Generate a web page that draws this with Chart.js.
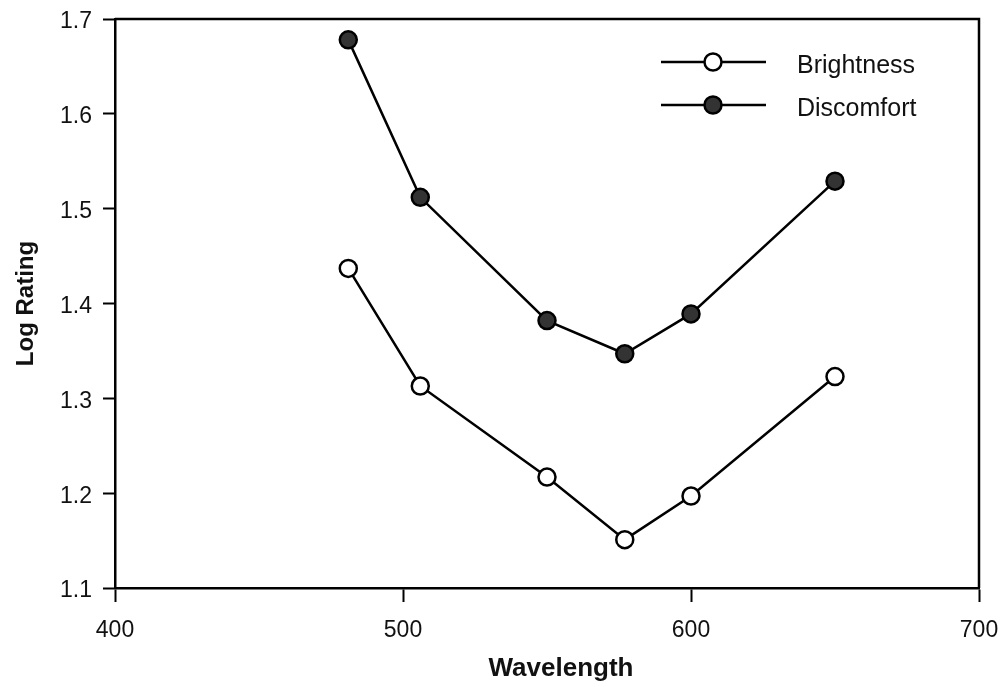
<!DOCTYPE html>
<html>
<head>
<meta charset="utf-8">
<script src="https://cdn.jsdelivr.net/npm/chart.js@4"></script>
<style>
  html, body { margin: 0; padding: 0; background: #fff; }
  #wrap { width: 1001px; height: 687px; }
</style>
</head>
<body>
<div id="wrap"><canvas id="chart" width="1001" height="687"></canvas></div>
<script>
const wavelengths = [481, 506, 550, 577, 600, 650];
const brightness = [1.437, 1.313, 1.217, 1.151, 1.197, 1.323];
const discomfort = [1.678, 1.512, 1.382, 1.347, 1.389, 1.529];
const xTicks = [400, 500, 600, 700];
const yTicks = [1.1, 1.2, 1.3, 1.4, 1.5, 1.6, 1.7];

const font = '"Liberation Sans", Arial, Helvetica, sans-serif';

// box round the plot area, the x title (sits a bit right of centre) and the legend
const frame = {
    id: 'frame',
    afterDraw(chart) {
        const ctx = chart.ctx;
        const a = chart.chartArea;
        ctx.save();
        ctx.strokeStyle = '#000';
        ctx.lineWidth = 2.5;
        ctx.beginPath();
        ctx.moveTo(a.left, a.top);
        ctx.lineTo(a.right, a.top);
        ctx.lineTo(a.right, a.bottom);
        ctx.stroke();

        ctx.fillStyle = '#111';
        ctx.font = 'bold 26px ' + font;
        ctx.textAlign = 'center';
        ctx.textBaseline = 'middle';
        ctx.fillText('Wavelength', 561, 669);

        const rows = [
            { label: 'Brightness', fill: '#fff', y: 62 },
            { label: 'Discomfort', fill: '#333', y: 105 }
        ];
        rows.forEach(r => {
            ctx.lineWidth = 2.5;
            ctx.beginPath();
            ctx.moveTo(661, r.y);
            ctx.lineTo(766, r.y);
            ctx.stroke();
            ctx.beginPath();
            ctx.arc(713, r.y, 8.5, 0, Math.PI * 2);
            ctx.fillStyle = r.fill;
            ctx.fill();
            ctx.stroke();
            ctx.fillStyle = '#111';
            ctx.font = '25px ' + font;
            ctx.textBaseline = 'middle';
            ctx.textAlign = 'left';
            ctx.fillText(r.label, 797, r.y + 4);
        });
        ctx.restore();
    }
};

new Chart(document.getElementById('chart'), {
    type: 'line',
    data: {
        datasets: [
            {
                label: 'Brightness',
                data: wavelengths.map((w, i) => ({ x: w, y: brightness[i] })),
                borderColor: '#000',
                borderWidth: 2.5,
                pointRadius: 8.5,
                pointBorderWidth: 2.5,
                pointBackgroundColor: '#fff',
                pointBorderColor: '#000',
                tension: 0
            },
            {
                label: 'Discomfort',
                data: wavelengths.map((w, i) => ({ x: w, y: discomfort[i] })),
                borderColor: '#000',
                borderWidth: 2.5,
                pointRadius: 8.5,
                pointBorderWidth: 2.5,
                pointBackgroundColor: '#333',
                pointBorderColor: '#000',
                tension: 0
            }
        ]
    },
    options: {
        responsive: false,
        animation: false,
        layout: { padding: { top: 19, right: 22, left: 0, bottom: 0 } },
        plugins: {
            legend: { display: false },
            tooltip: { enabled: false }
        },
        scales: {
            x: {
                type: 'linear',
                min: 400,
                max: 700,
                afterBuildTicks: s => { s.ticks = xTicks.map(v => ({ value: v })); },
                afterFit: s => { s.height = 99; s.paddingLeft = 0; s.paddingRight = 0; },
                grid: { drawOnChartArea: false, tickLength: 14, tickWidth: 2, color: '#000' },
                border: { color: '#000', width: 2.5 },
                ticks: { color: '#111', font: { family: font, size: 23 }, padding: 15 }
            },
            y: {
                min: 1.1,
                max: 1.7,
                afterBuildTicks: s => { s.ticks = yTicks.map(v => ({ value: v })); },
                afterFit: s => { s.width = 115; s.paddingTop = 0; s.paddingBottom = 0; },
                grid: { drawOnChartArea: false, tickLength: 12, tickWidth: 2, color: '#000' },
                border: { color: '#000', width: 2.5 },
                ticks: {
                    color: '#111',
                    font: { family: font, size: 23 },
                    padding: 11,
                    labelOffset: 3,
                    callback: v => v.toFixed(1)
                },
                title: {
                    display: true,
                    text: 'Log Rating',
                    color: '#111',
                    font: { family: font, size: 24, weight: 'bold' },
                    padding: { top: 12, bottom: 10 }
                }
            }
        }
    },
    plugins: [frame]
});
</script>
</body>
</html>
